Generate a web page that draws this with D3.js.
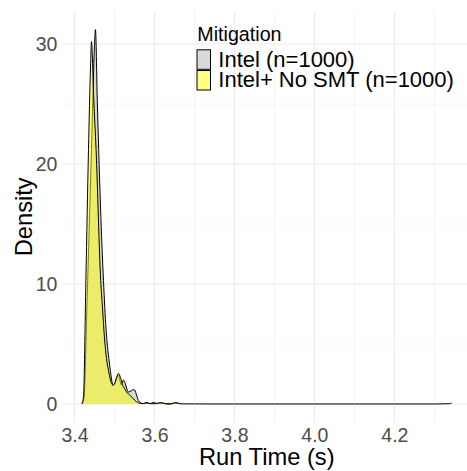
<!DOCTYPE html>
<html>
<head>
<meta charset="utf-8">
<script src="https://cdn.jsdelivr.net/npm/d3@7"></script>
<style>
  body { margin: 0; background: #fff; }
  svg { display: block; font-family: "Liberation Sans", Arial, sans-serif; }
</style>
</head>
<body>
<svg id="chart"></svg>
<script>
const width = 467;
const height = 471;

// density estimates
const intelX = [3.419, 3.424, 3.431, 3.438, 3.444, 3.449, 3.4525, 3.457, 3.4605, 3.465, 3.4725, 3.479, 3.4825, 3.487, 3.4975, 3.51, 3.517, 3.5225, 3.535, 3.549, 3.56, 3.566, 3.572, 3.581, 3.589, 3.5975, 3.607, 3.617, 3.628, 3.642, 3.654, 3.666, 3.7, 3.8, 3.9, 4.0, 4.1, 4.2, 4.3, 4.338, 4.3435];
const intelDensity = [0, 0.6, 8, 16, 23, 29, 31.2, 25.3, 21.2, 16.5, 10.3, 6.2, 4.8, 3.5, 1.5, 2.4, 1.6, 2.0, 1.0, 1.2, 0.3, 0.08, 0.03, 0.13, 0.03, 0.13, 0.03, 0.1, 0.01, 0.01, 0.1, 0.01, 0.005, 0, 0, 0, 0, 0, 0, 0.02, 0.08];

const noSmtX = [3.4185, 3.4225, 3.4285, 3.435, 3.44, 3.4425, 3.448, 3.454, 3.4655, 3.47, 3.475, 3.48, 3.485, 3.49, 3.495, 3.5, 3.505, 3.51, 3.515, 3.52, 3.525, 3.53, 3.54, 3.55, 3.56, 3.57, 3.58, 3.59, 3.6, 3.6145, 3.63, 3.64, 3.652, 3.662];
const noSmtDensity = [0, 0.6, 10.3, 21.2, 28, 30.2, 25.5, 21.2, 10.3, 8, 5.5, 3.8, 2.8, 2.0, 1.6, 1.7, 2.2, 2.55, 2.2, 1.6, 1.3, 1.0, 0.7, 0.33, 0.1, 0.03, 0.08, 0.03, 0.02, 0.1, 0.02, 0.01, 0.1, 0.03];

const seriesNames = ["Intel (n=1000)", "Intel+ No SMT (n=1000)"];
const seriesFills = ["#b3b3b3", "#ffff00"];

const xTicks = [3.4, 3.6, 3.8, 4.0, 4.2];
const xMinor = [3.5, 3.7, 3.9, 4.1, 4.3];
const yTicks = [0, 10, 20, 30];
const yMinor = [5, 15, 25];

const series = [
  { name: seriesNames[0], fill: seriesFills[0], values: intelX.map((x, i) => ({ x, y: intelDensity[i] })) },
  { name: seriesNames[1], fill: seriesFills[1], values: noSmtX.map((x, i) => ({ x, y: noSmtDensity[i] })) }
];

const panel = { left: 63.4, right: 470.2, top: 10.9, bottom: 422.7 };

const svg = d3.select("#chart")
  .attr("width", width)
  .attr("height", height);

svg.append("rect").attr("width", width).attr("height", height).attr("fill", "#fff");

// ggplot-style 5% expansion around the data
const xData = [d3.min(noSmtX), d3.max(intelX)];
const xPad = (xData[1] - xData[0]) * 0.05;
const yMax = d3.max(intelDensity);

const x = d3.scaleLinear()
  .domain([xData[0] - xPad, xData[1] + xPad])
  .range([panel.left, panel.right]);

const y = d3.scaleLinear()
  .domain([-yMax * 0.05, yMax * 1.05])
  .range([panel.bottom, panel.top]);

// grid
const grid = svg.append("g");
grid.selectAll(".xminor").data(xMinor).join("line")
  .attr("x1", d => x(d)).attr("x2", d => x(d))
  .attr("y1", panel.top).attr("y2", panel.bottom)
  .attr("stroke", "#ebebeb").attr("stroke-width", 0.55);
grid.selectAll(".yminor").data(yMinor).join("line")
  .attr("y1", d => y(d)).attr("y2", d => y(d))
  .attr("x1", panel.left).attr("x2", panel.right)
  .attr("stroke", "#ebebeb").attr("stroke-width", 0.55);
grid.selectAll(".xmajor").data(xTicks).join("line")
  .attr("x1", d => x(d)).attr("x2", d => x(d))
  .attr("y1", panel.top).attr("y2", panel.bottom)
  .attr("stroke", "#ebebeb").attr("stroke-width", 1.1);
grid.selectAll(".ymajor").data(yTicks).join("line")
  .attr("y1", d => y(d)).attr("y2", d => y(d))
  .attr("x1", panel.left).attr("x2", panel.right)
  .attr("stroke", "#ebebeb").attr("stroke-width", 1.1);

// densities
const area = d3.area()
  .x(d => x(d.x))
  .y0(y(0))
  .y1(d => y(d.y))
  .curve(d3.curveMonotoneX);

const line = d3.line()
  .x(d => x(d.x))
  .y(d => y(d.y))
  .curve(d3.curveMonotoneX);

series.forEach(s => {
  svg.append("path")
    .datum(s.values)
    .attr("fill", s.fill)
    .attr("fill-opacity", 0.5)
    .attr("d", area);
  svg.append("path")
    .datum(s.values)
    .attr("fill", "none")
    .attr("stroke", "#000")
    .attr("stroke-width", 1)
    .attr("d", line);
});

// axes
const xAxis = svg.append("g")
  .attr("transform", `translate(0,${panel.bottom})`)
  .call(d3.axisBottom(x).tickValues(xTicks).tickFormat(d3.format(".1f")).tickSize(0).tickPadding(19));
xAxis.select(".domain").remove();
xAxis.selectAll("text").attr("fill", "#4d4d4d").style("font-size", "19.5px").attr("dy", 0);

const yAxis = svg.append("g")
  .attr("transform", `translate(${panel.left},0)`)
  .call(d3.axisLeft(y).tickValues(yTicks).tickSize(0).tickPadding(6));
yAxis.select(".domain").remove();
yAxis.selectAll("text").attr("fill", "#4d4d4d").style("font-size", "19.5px");

svg.append("text")
  .attr("x", (panel.left + panel.right) / 2)
  .attr("y", 465)
  .attr("text-anchor", "middle")
  .style("font-size", "23.7px")
  .text("Run Time (s)");

svg.append("text")
  .attr("transform", `translate(31.5,${(panel.top + panel.bottom) / 2}) rotate(-90)`)
  .attr("text-anchor", "middle")
  .style("font-size", "23.7px")
  .text("Density");

// legend
const legend = svg.append("g");
legend.append("text")
  .attr("x", 197.3)
  .attr("y", 40.7)
  .style("font-size", "19.7px")
  .text("Mitigation");

const keys = legend.selectAll(".key").data(series).join("g")
  .attr("transform", (d, i) => `translate(197,${49.8 + i * 20.7})`);
keys.append("rect")
  .attr("width", 13.5)
  .attr("height", 19.5)
  .attr("fill", d => d.fill)
  .attr("fill-opacity", 0.5)
  .attr("stroke", "#000")
  .attr("stroke-width", 1);
keys.append("text")
  .attr("x", 21.3)
  .attr("y", 16.9)
  .style("font-size", "22px")
  .text(d => d.name);
</script>
</body>
</html>
